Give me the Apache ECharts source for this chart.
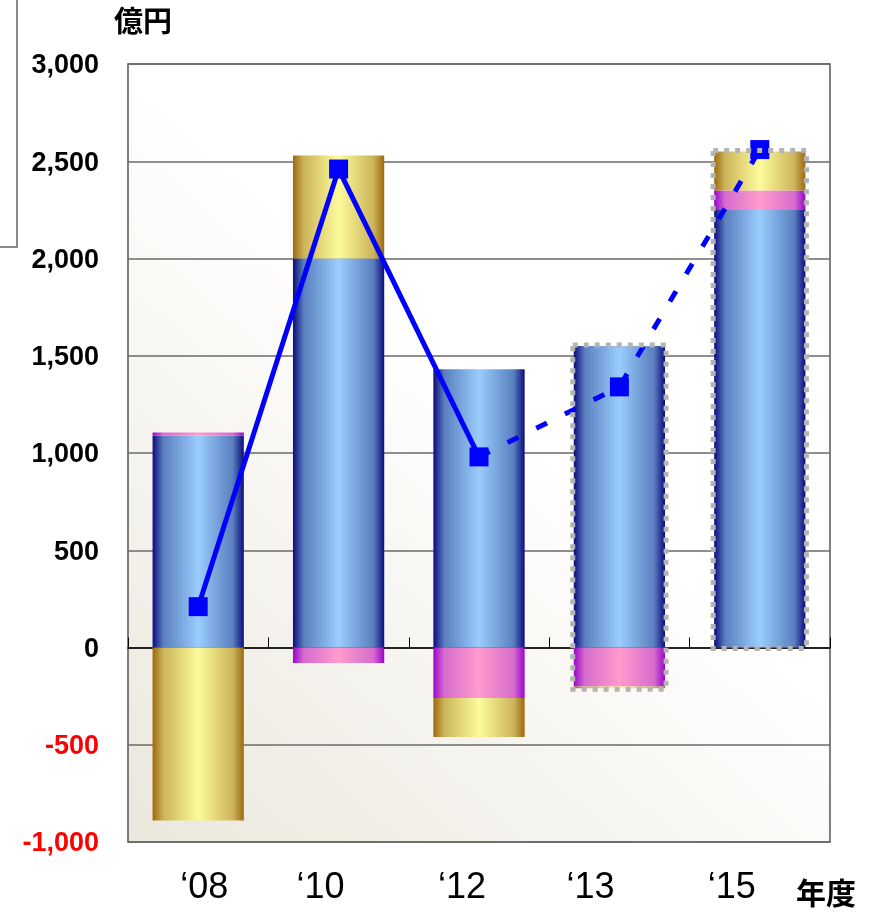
<!DOCTYPE html>
<html><head><meta charset="utf-8">
<script src="https://cdn.jsdelivr.net/npm/echarts@6/dist/echarts.min.js"></script>
<style>html,body{margin:0;padding:0;background:#fff}#c{width:872px;height:919px}</style>
</head><body><div id="c"></div>
<script>
const categories = ["‘08", "‘10", "‘12", "‘13", "‘15"];
const blueVals = [1090, 2000, 1430, 1550, 2250];
const pinkVals = [15, -80, -260, -200, 100];
const goldVals = [-890, 530, -200, -10, 200];
const lineActual = [210, 2460, 980, '-', '-'];
const lineForecast = ['-', '-', 980, 1340, 2560];
const forecastRanges = [[3, -210, 1550], [4, 0, 2550]];
const yTicks = {min: -1000, max: 3000, interval: 500};
const labelShift = [6, -18, -17, -29, -28];

const G = echarts.graphic;
function hGrad(edge, mid, center) {
  return new G.LinearGradient(0, 0, 1, 0, [
    {offset: 0, color: edge}, {offset: 0.12, color: mid}, {offset: 0.5, color: center},
    {offset: 0.88, color: mid}, {offset: 1, color: edge}]);
}
const blueG = hGrad('#0c0c7e', '#5a7fbf', '#9acdfd');
const pinkG = hGrad('#9a06cc', '#d66ccc', '#ff9ccc');
const goldG = hGrad('#9c6a10', '#cdb45a', '#fcfc9c');

const FONT = '"Liberation Sans", Arial, sans-serif';
const chart = echarts.init(document.getElementById('c'));
const rich = {};
categories.forEach((c, i) => {
  const s = labelShift[i];
  rich['l' + i] = {fontSize: 36, fontFamily: FONT, color: '#000',
    padding: s >= 0 ? [0, 0, 0, 2 * s] : [0, -2 * s, 0, 0]};
});
chart.setOption({
  animation: false,
  backgroundColor: '#fff',
  grid: {left: 128, right: 42, top: 64, bottom: 77, show: true,
    borderColor: '#555', borderWidth: 1.5,
    backgroundColor: new G.LinearGradient(0, 1, 1, 0, [
      {offset: 0, color: '#ebe7dc'}, {offset: 0.55, color: '#ffffff'}, {offset: 1, color: '#ffffff'}])},
  xAxis: [
    {type: 'category', data: categories, position: 'bottom',
      axisLine: {show: false, onZero: false}, axisTick: {show: false},
      axisLabel: {margin: 28, formatter: (v, i) => '{l' + i + '|' + v + '}', rich: rich}},
    {type: 'category', data: categories, position: 'bottom',
      axisLine: {onZero: true, lineStyle: {color: '#000', width: 1.5}},
      axisTick: {show: true, inside: true, length: 10, lineStyle: {color: '#000', width: 1}},
      axisLabel: {show: false}}
  ],
  yAxis: {type: 'value', min: yTicks.min, max: yTicks.max, interval: yTicks.interval,
    axisLine: {show: false}, axisTick: {show: false},
    splitLine: {lineStyle: {color: '#6a6a6a', width: 1.5}},
    axisLabel: {margin: 29, padding: [4, 0, 0, 0],
      formatter: v => (v < 0 ? '{r|' : '{b|') + v.toLocaleString('en-US') + '}',
      rich: {b: {fontSize: 27, fontWeight: 'bold', color: '#000', fontFamily: FONT},
             r: {fontSize: 27, fontWeight: 'bold', color: '#ff0000', fontFamily: FONT}}}},
  series: [
    {type: 'bar', name: 'blue', stack: 's', data: blueVals, barWidth: '65%', itemStyle: {color: blueG}, z: 1},
    {type: 'bar', name: 'pink', stack: 's', data: pinkVals, barWidth: '65%', itemStyle: {color: pinkG}, z: 1},
    {type: 'bar', name: 'gold', stack: 's', data: goldVals, barWidth: '65%', itemStyle: {color: goldG}, z: 1},
    {type: 'line', name: 'actual', data: lineActual, symbol: 'rect', symbolSize: 19,
      lineStyle: {color: '#0000ff', width: 5}, itemStyle: {color: '#0000ff'}, z: 3},
    {type: 'line', name: 'forecast', data: lineForecast.map((v, i) => i === 2 ? {value: v, symbol: 'none'} : v),
      symbol: 'rect', symbolSize: 19,
      lineStyle: {color: '#0000ff', width: 5, type: [12, 20]}, itemStyle: {color: '#0000ff'}, z: 3},
    {type: 'custom', name: 'frame', data: forecastRanges, z: 4,
      renderItem: (params, api) => {
        const lo = api.coord([api.value(0), api.value(1)]);
        const hi = api.coord([api.value(0), api.value(2)]);
        const w = api.size([1, 0])[0] * 0.65 + 2;
        return {type: 'rect', shape: {x: hi[0] - w / 2, y: hi[1] - 1, width: w, height: lo[1] - hi[1] + 2},
          style: {fill: 'none', stroke: '#b4b4b4', lineWidth: 5, lineDash: [5, 6]}};
      }}
  ],
  graphic: [
    {type: 'text', left: 114, top: 6, style: {text: '億円', font: 'bold 29px "Noto Sans CJK JP", sans-serif', fill: '#000'}},
    {type: 'text', left: 796, top: 878, style: {text: '年度', font: 'bold 30px "Noto Sans CJK JP", sans-serif', fill: '#000'}},
    {type: 'polyline', shape: {points: [[17, 0], [17, 247], [0, 247]]}, style: {stroke: '#8a8a8a', lineWidth: 2, fill: 'none'}}
  ]
});
</script></body></html>
